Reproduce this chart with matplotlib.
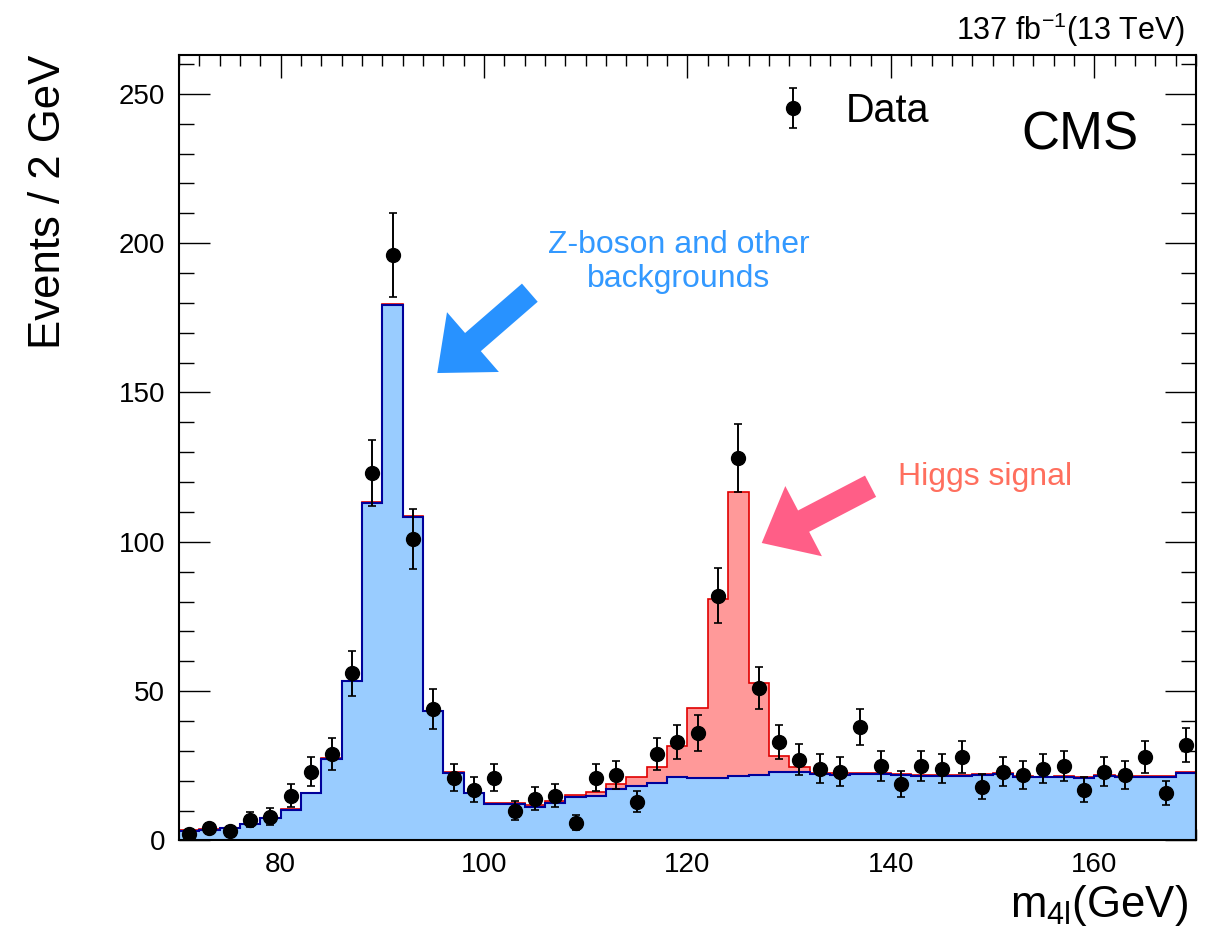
import numpy as np
import matplotlib
matplotlib.use('Agg')
import matplotlib.pyplot as plt
from matplotlib.ticker import MultipleLocator

plt.rcParams['font.family'] = ['Liberation Sans', 'DejaVu Sans']
plt.rcParams['mathtext.fontset'] = 'custom'
plt.rcParams['mathtext.rm'] = 'Liberation Sans'
plt.rcParams['mathtext.it'] = 'Liberation Sans:italic'

# 2 GeV bins, 70 -> 170 GeV
bin_edges = np.arange(70, 172, 2)
bin_centers = 0.5 * (bin_edges[:-1] + bin_edges[1:])

data_counts = np.array([
    2, 4, 3, 7, 8, 15, 23, 29, 56, 123,
    196, 101, 44, 21, 17, 21, 10, 14, 15, 6,
    21, 22, 13, 29, 33, 36, 82, 128, 51, 33,
    27, 24, 23, 38, 25, 19, 25, 24, 28, 18,
    23, 22, 24, 25, 17, 23, 22, 28, 16, 32,
])

# Z + other backgrounds
bkg_yield = np.array([
    3.2, 3.5, 4.1, 5.4, 7.4, 10.2, 15.8, 27.3, 53.3, 113.1,
    179.4, 108.3, 43.3, 22.7, 15.8, 12.2, 12.2, 11.3, 12.6, 14.4,
    15.0, 17.1, 18.2, 19.3, 21.1, 20.8, 21.0, 21.6, 21.9, 22.8,
    23.0, 22.2, 22.0, 22.3, 22.3, 21.9, 21.7, 21.7, 21.6, 21.9,
    22.2, 21.3, 21.1, 21.3, 20.9, 21.6, 21.3, 21.3, 21.3, 22.7,
])

# H -> ZZ -> 4l signal, stacked on top
sig_yield = np.array([
    0.2, 0.2, 0.2, 0.2, 0.2, 0.2, 0.2, 0.2, 0.2, 0.2,
    0.2, 0.2, 0.2, 0.2, 0.2, 0.2, 0.2, 0.6, 0.7, 0.8,
    1.3, 1.8, 3.1, 5.4, 10.6, 23.7, 60.0, 95.2, 30.8, 5.5,
    1.5, 0.5, 0.5, 0.3, 0.3, 0.3, 0.3, 0.3, 0.3, 0.3,
    0.3, 0.3, 0.3, 0.3, 0.3, 0.3, 0.3, 0.3, 0.3, 0.3,
])

# annotation arrows (tail, tip) in data coordinates
bkg_arrow = ((104.5, 183.4), (95.4, 156.5))
sig_arrow = ((138.0, 118.6), (127.3, 99.6))

W, H = 1214, 933


def px(x, y):
    return x / W, 1 - y / H


fig = plt.figure(figsize=(W / 100, H / 100), dpi=100)
ax = fig.add_axes([0.1474, 0.0992, 0.8378, 0.8419])

ax.stairs(bkg_yield + sig_yield, bin_edges, fill=True,
          facecolor='#ff9999', edgecolor='#e00000', lw=1.2, zorder=2)
ax.stairs(bkg_yield, bin_edges, fill=True,
          facecolor='#99ccff', edgecolor='#00009a', lw=1.5, zorder=3)

eb = ax.errorbar(bin_centers, data_counts, yerr=np.sqrt(data_counts),
                 fmt='o', color='black', ms=10, elinewidth=1.4,
                 capsize=3, capthick=1.2, zorder=5)

ax.legend([eb], ['Data'], loc='lower left', bbox_to_anchor=(0.584, 0.905),
          frameon=False, fontsize=28.5, handlelength=1.0,
          handletextpad=0.85, borderpad=0, borderaxespad=0)

ax.set_xlim(70, 170)
ax.set_ylim(0, 263)
ax.xaxis.set_major_locator(MultipleLocator(20))
ax.xaxis.set_minor_locator(MultipleLocator(2))
ax.yaxis.set_major_locator(MultipleLocator(50))
ax.yaxis.set_minor_locator(MultipleLocator(10))
ax.tick_params(which='both', direction='in', top=True, right=True,
               width=1.0, labelsize=20)
ax.tick_params(axis='x', which='major', length=16.5, pad=8)
ax.tick_params(axis='x', which='minor', length=8)
ax.tick_params(axis='y', which='major', length=22, pad=10)
ax.tick_params(axis='y', which='minor', length=11)
for sp in ax.spines.values():
    sp.set_linewidth(1.5)
    sp.set_zorder(6)

ax.text(119.1, 193.7, 'Z-boson and other\nbackgrounds', ha='center',
        va='center', color='#3399ff', fontsize=23)
ax.text(140.7, 118.9, 'Higgs signal', ha='left', va='baseline',
        color='#ff6f5e', fontsize=23)

arrow_style = 'simple,head_length=3.4,head_width=5.7,tail_width=1.73'
for (tail, tip), col in [(bkg_arrow, '#2892ff'), (sig_arrow, '#ff5e87')]:
    ax.annotate('', xy=tip, xytext=tail,
                arrowprops=dict(arrowstyle=arrow_style, color=col, lw=0,
                                shrinkA=0, shrinkB=0, mutation_scale=10))

fig.text(*px(1138, 150), 'CMS', ha='right', va='baseline', fontsize=38)
fig.text(*px(1185, 40), '137 fb$^{\\mathregular{-1}}$(13 TeV)', ha='right',
         va='baseline', fontsize=22)
fig.text(*px(49, 55), 'Events / 2 GeV', rotation=90, ha='center', va='top',
         fontsize=31.5)
fig.text(*px(1188, 917), 'm$_{\\mathregular{4l}}$(GeV)', ha='right',
         va='baseline', fontsize=31.5)

fig.savefig('out.png', dpi=100)
